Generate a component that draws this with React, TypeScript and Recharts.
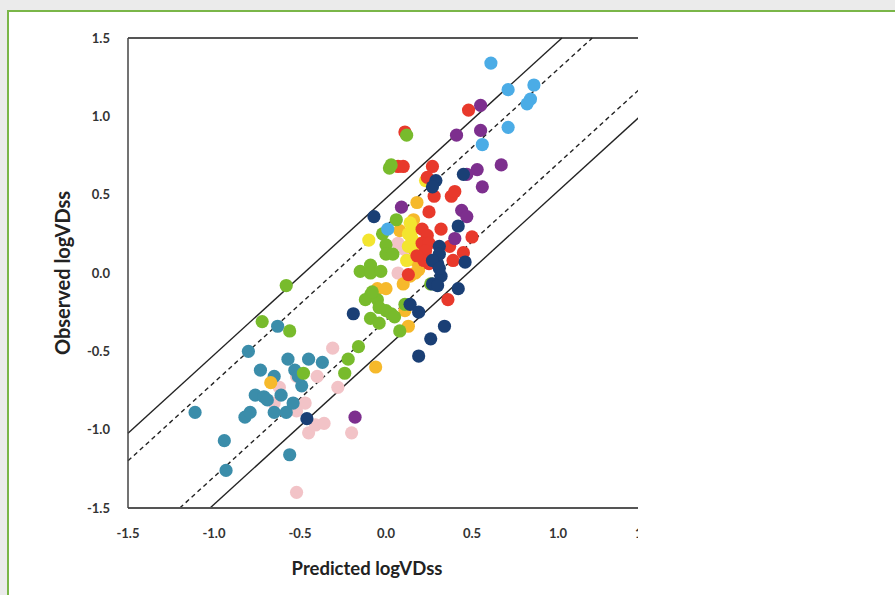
import React from "react";
import {
  ScatterChart,
  Scatter,
  XAxis,
  YAxis,
  ReferenceLine,
} from "recharts";

interface Pt {
  x: number;
  y: number;
}

// observed vs predicted logVDss, one list per colour group
const pinkPts: Pt[] = [
  { x: -0.31, y: -0.48 }, { x: -0.52, y: -0.66 }, { x: -0.4, y: -0.66 },
  { x: -0.62, y: -0.73 }, { x: -0.28, y: -0.73 }, { x: -0.65, y: -0.83 },
  { x: -0.52, y: -0.88 }, { x: -0.47, y: -0.83 }, { x: -0.45, y: -1.02 },
  { x: -0.41, y: -0.97 }, { x: -0.36, y: -0.96 }, { x: -0.2, y: -1.02 },
  { x: -0.52, y: -1.4 }, { x: 0.07, y: 0.0 }, { x: 0.07, y: 0.19 },
  { x: 0.11, y: 0.15 },
];

const tealPts: Pt[] = [
  { x: -1.11, y: -0.89 }, { x: -0.94, y: -1.07 }, { x: -0.93, y: -1.26 },
  { x: -0.56, y: -1.16 }, { x: -0.8, y: -0.5 }, { x: -0.63, y: -0.34 },
  { x: -0.73, y: -0.62 }, { x: -0.76, y: -0.78 }, { x: -0.71, y: -0.79 },
  { x: -0.69, y: -0.81 }, { x: -0.82, y: -0.92 }, { x: -0.79, y: -0.89 },
  { x: -0.65, y: -0.66 }, { x: -0.61, y: -0.78 }, { x: -0.65, y: -0.89 },
  { x: -0.58, y: -0.89 }, { x: -0.54, y: -0.83 }, { x: -0.57, y: -0.55 },
  { x: -0.45, y: -0.55 }, { x: -0.37, y: -0.57 }, { x: -0.53, y: -0.62 },
  { x: -0.51, y: -0.66 }, { x: -0.49, y: -0.72 },
];

const orangePts: Pt[] = [
  { x: 0.18, y: 0.45 }, { x: 0.08, y: 0.27 }, { x: 0.16, y: 0.34 },
  { x: 0.2, y: 0.19 }, { x: 0.17, y: 0.14 }, { x: 0.18, y: 0.07 },
  { x: 0.19, y: 0.02 }, { x: 0.14, y: -0.02 }, { x: 0.1, y: -0.07 },
  { x: 0.17, y: 0.0 }, { x: -0.05, y: -0.1 }, { x: 0.0, y: -0.1 },
  { x: 0.11, y: -0.24 }, { x: 0.13, y: -0.34 }, { x: -0.06, y: -0.6 },
  { x: -0.67, y: -0.7 },
];

const yellowPts: Pt[] = [
  { x: 0.23, y: 0.59 }, { x: -0.1, y: 0.21 }, { x: 0.14, y: 0.32 },
  { x: 0.16, y: 0.28 }, { x: 0.15, y: 0.22 }, { x: 0.13, y: 0.17 },
  { x: 0.17, y: 0.15 }, { x: 0.12, y: 0.08 }, { x: 0.13, y: 0.25 },
];

const redPts: Pt[] = [
  { x: 0.48, y: 1.04 }, { x: 0.11, y: 0.9 }, { x: 0.07, y: 0.68 },
  { x: 0.1, y: 0.68 }, { x: 0.27, y: 0.68 }, { x: 0.24, y: 0.61 },
  { x: 0.28, y: 0.49 }, { x: 0.38, y: 0.49 }, { x: 0.4, y: 0.52 },
  { x: 0.25, y: 0.39 }, { x: 0.21, y: 0.28 }, { x: 0.24, y: 0.24 },
  { x: 0.21, y: 0.19 }, { x: 0.25, y: 0.19 }, { x: 0.23, y: 0.14 },
  { x: 0.25, y: 0.06 }, { x: 0.32, y: 0.28 }, { x: 0.5, y: 0.23 },
  { x: 0.39, y: 0.08 }, { x: 0.45, y: 0.13 }, { x: 0.37, y: 0.17 },
  { x: 0.22, y: 0.08 }, { x: 0.18, y: 0.11 }, { x: 0.36, y: -0.17 },
  { x: 0.13, y: -0.01 },
];

const purplePts: Pt[] = [
  { x: 0.55, y: 1.07 }, { x: 0.41, y: 0.88 }, { x: 0.55, y: 0.91 },
  { x: 0.67, y: 0.69 }, { x: 0.53, y: 0.66 }, { x: 0.47, y: 0.63 },
  { x: 0.56, y: 0.55 }, { x: 0.09, y: 0.42 }, { x: 0.44, y: 0.4 },
  { x: 0.47, y: 0.36 }, { x: 0.4, y: 0.22 }, { x: -0.18, y: -0.92 },
];

const greenPts: Pt[] = [
  { x: 0.02, y: 0.67 }, { x: 0.03, y: 0.69 }, { x: 0.12, y: 0.88 },
  { x: 0.06, y: 0.34 }, { x: -0.02, y: 0.25 }, { x: 0.0, y: 0.18 },
  { x: 0.0, y: 0.12 }, { x: 0.04, y: 0.12 }, { x: -0.15, y: 0.01 },
  { x: -0.09, y: 0.05 }, { x: -0.09, y: 0.0 }, { x: -0.03, y: 0.01 },
  { x: -0.09, y: -0.14 }, { x: -0.05, y: -0.17 }, { x: -0.12, y: -0.17 },
  { x: -0.08, y: -0.12 }, { x: -0.04, y: -0.22 }, { x: 0.0, y: -0.24 },
  { x: 0.03, y: -0.26 }, { x: 0.05, y: -0.28 }, { x: -0.09, y: -0.29 },
  { x: -0.04, y: -0.32 }, { x: 0.11, y: -0.2 }, { x: 0.08, y: -0.37 },
  { x: 0.26, y: -0.07 }, { x: -0.16, y: -0.47 }, { x: -0.22, y: -0.55 },
  { x: -0.24, y: -0.64 }, { x: -0.58, y: -0.08 }, { x: -0.72, y: -0.31 },
  { x: -0.56, y: -0.37 }, { x: -0.48, y: -0.64 },
];

const navyPts: Pt[] = [
  { x: 0.45, y: 0.63 }, { x: 0.29, y: 0.59 }, { x: 0.27, y: 0.55 },
  { x: -0.07, y: 0.36 }, { x: 0.42, y: 0.3 }, { x: 0.31, y: 0.17 },
  { x: 0.31, y: 0.12 }, { x: 0.3, y: 0.06 }, { x: 0.27, y: 0.08 },
  { x: 0.46, y: 0.07 }, { x: 0.32, y: -0.02 }, { x: 0.27, y: -0.07 },
  { x: 0.3, y: -0.08 }, { x: 0.42, y: -0.1 }, { x: 0.31, y: 0.03 },
  { x: 0.14, y: -0.2 }, { x: 0.19, y: -0.25 }, { x: -0.19, y: -0.26 },
  { x: 0.34, y: -0.34 }, { x: 0.26, y: -0.42 }, { x: 0.19, y: -0.53 },
  { x: -0.46, y: -0.93 },
];

const skyPts: Pt[] = [
  { x: 0.61, y: 1.34 }, { x: 0.71, y: 1.17 }, { x: 0.86, y: 1.2 },
  { x: 0.84, y: 1.11 }, { x: 0.82, y: 1.08 }, { x: 0.71, y: 0.93 },
  { x: 0.56, y: 0.82 }, { x: 0.01, y: 0.28 },
];

const groups = [
  { name: "pink", data: pinkPts, color: "#F2C3C7" },
  { name: "teal", data: tealPts, color: "#3B8DAA" },
  { name: "orange", data: orangePts, color: "#F6B92B" },
  { name: "yellow", data: yellowPts, color: "#F3E52F" },
  { name: "red", data: redPts, color: "#E8392B" },
  { name: "purple", data: purplePts, color: "#7D2F8E" },
  { name: "green", data: greenPts, color: "#78BB2C" },
  { name: "navy", data: navyPts, color: "#1A3F75" },
  { name: "sky", data: skyPts, color: "#4BACE6" },
];

const axisTicks = [-1.5, -1.0, -0.5, 0.0, 0.5, 1.0, 1.5];
const LO = -1.5;
const HI = 1.5;

// 2-fold (dashed) and 3-fold (solid) error bands
const foldLines = [
  { offset: Math.log10(3), dashed: false },
  { offset: Math.log10(2), dashed: true },
  { offset: -Math.log10(2), dashed: true },
  { offset: -Math.log10(3), dashed: false },
];

const FONT = "Lato, 'Open Sans', sans-serif";
const tickStyle = { fontFamily: FONT, fontWeight: 700, fontSize: 13, fill: "#333" };

const Dot = (props: any) => (
  <circle cx={props.cx} cy={props.cy} r={6.6} fill={props.fill} />
);

const XTitle = ({ viewBox }: any) => (
  <text
    x={viewBox.x + viewBox.width / 2 - 19}
    y={viewBox.y + 60}
    textAnchor="middle"
    dominantBaseline="central"
    fontFamily={FONT}
    fontWeight={700}
    fontSize={18.5}
    fill="#222"
  >
    Predicted logVDss
  </text>
);

const YTitle = ({ viewBox }: any) => {
  const cx = viewBox.x + 62;
  const cy = viewBox.y + viewBox.height / 2;
  return (
    <text
      x={cx}
      y={cy}
      transform={`rotate(-90 ${cx} ${cy})`}
      textAnchor="middle"
      dominantBaseline="central"
      fontFamily={FONT}
      fontWeight={700}
      fontSize={20}
      fill="#222"
    >
      Observed logVDss
    </text>
  );
};

const App: React.FC = () => {
  return (
    <div
      style={{
        position: "absolute",
        left: 0,
        top: 0,
        width: 895,
        height: 595,
        background: "#ebebeb",
        overflow: "hidden",
      }}
    >
      <div
        style={{
          position: "absolute",
          left: 7,
          top: 10,
          width: 900,
          height: 600,
          background: "#fff",
          borderLeft: "2px solid #7ab648",
          borderTop: "2px solid #7ab648",
        }}
      />
      <div
        style={{
          position: "absolute",
          left: 0,
          top: 0,
          width: 638,
          height: 595,
          overflow: "hidden",
        }}
      >
        <ScatterChart
          width={700}
          height={595}
          margin={{ top: 38, right: 56, bottom: 27, left: 0 }}
        >
          <XAxis
            type="number"
            dataKey="x"
            domain={[LO, HI]}
            ticks={axisTicks}
            tickFormatter={(v: number) => v.toFixed(1)}
            tick={tickStyle}
            tickLine={false}
            tickSize={6}
            tickMargin={15}
            height={60}
            axisLine={{ stroke: "#555", strokeWidth: 2 }}
            allowDataOverflow
            label={{ content: XTitle }}
          />
          <YAxis
            type="number"
            dataKey="y"
            domain={[LO, HI]}
            ticks={axisTicks}
            tickFormatter={(v: number) => v.toFixed(1)}
            tick={tickStyle}
            tickLine={false}
            tickSize={6}
            tickMargin={12}
            width={128}
            axisLine={{ stroke: "#444", strokeWidth: 1.5 }}
            allowDataOverflow
            label={{ content: YTitle }}
          />
          <ReferenceLine y={HI} stroke="#555" strokeWidth={2} />
          {foldLines.map((f, i) => (
            <ReferenceLine
              key={`fold-${i}`}
              segment={[
                { x: Math.max(LO, LO - f.offset), y: Math.max(LO, LO + f.offset) },
                { x: Math.min(HI, HI - f.offset), y: Math.min(HI, HI + f.offset) },
              ]}
              stroke="#222"
              strokeWidth={1.4}
              strokeDasharray={f.dashed ? "4.5 3.5" : undefined}
            />
          ))}
          {groups.map((g) => (
            <Scatter
              key={g.name}
              name={g.name}
              data={g.data}
              fill={g.color}
              shape={Dot}
              isAnimationActive={false}
            />
          ))}
        </ScatterChart>
      </div>
    </div>
  );
};

export default App;
